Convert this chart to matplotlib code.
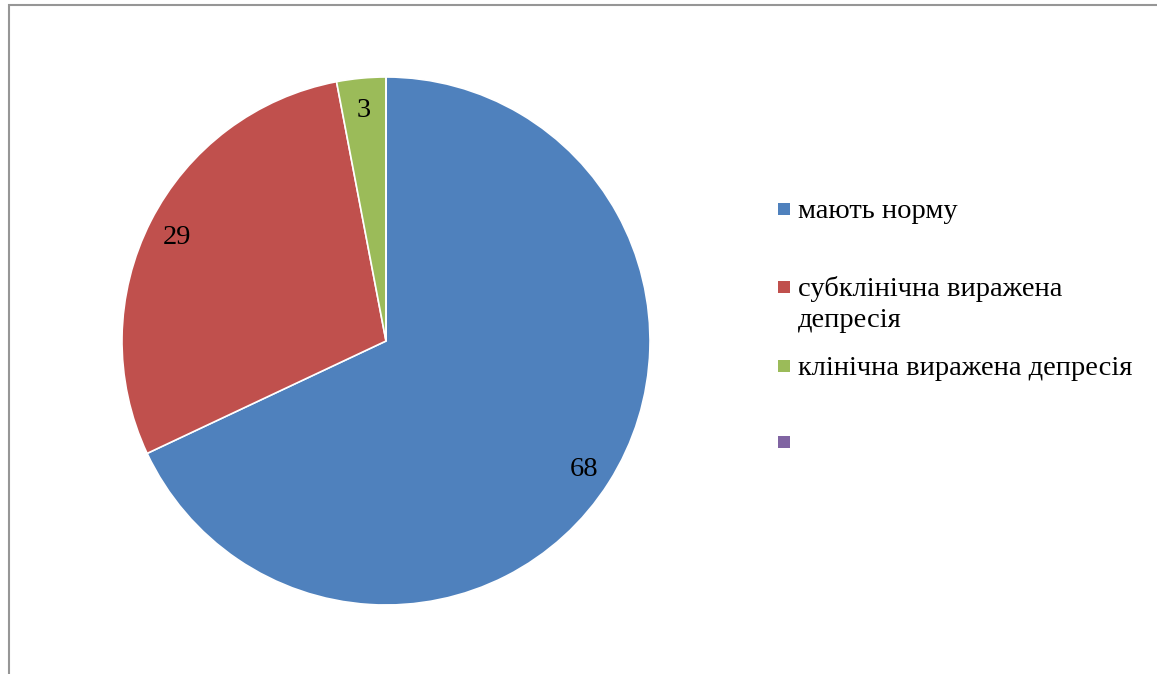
import matplotlib
matplotlib.use("Agg")
import matplotlib.pyplot as plt
from matplotlib.patches import Rectangle

# Data
categories = ["мають норму", "субклінічна виражена\nдепресія",
              "клінічна виражена депресія", ""]
values = [68, 29, 3, 0]
colors = ["#4F81BD", "#C0504D", "#9BBB59", "#8064A2"]

W, H = 1157, 674
DPI = 100
fig = plt.figure(figsize=(W / DPI, H / DPI), dpi=DPI)
fig.patch.set_facecolor("white")

font = "Liberation Serif"
fsize = 20.5

# Chart-area frame
fig.patches.append(Rectangle((9 / W, -0.05), 1.2, (H - 5) / H + 0.05,
                             transform=fig.transFigure, fill=False,
                             edgecolor="#969696", linewidth=1.5))

# Pie
cx, cy, r = 386, 341, 264
ax = fig.add_axes([(cx - r) / W, (H - cy - r) / H, 2 * r / W, 2 * r / H])
total = sum(values)


def fmt(pct):
    v = int(round(pct * total / 100.0))
    return str(v) if v > 0 else ""


wedges, _, autotexts = ax.pie(values, colors=colors, startangle=90,
                              counterclock=False, radius=1.0,
                              autopct=fmt, pctdistance=0.89,
                              wedgeprops=dict(edgecolor="white", linewidth=1.2))
for t in autotexts:
    t.set_fontfamily(font)
    t.set_fontsize(fsize)
    t.set_color("black")
    t.set_verticalalignment("center_baseline")
ax.set_xlim(-1, 1)
ax.set_ylim(-1, 1)
ax.set_aspect("equal")
ax.axis("off")

# Legend
marker_y = [209, 287, 366, 442]
mx, ms = 784, 12
tx = 798
for lab, col, my in zip(categories, colors, marker_y):
    fig.patches.append(Rectangle(((mx - ms / 2) / W, (H - my - ms / 2) / H),
                                 ms / W, ms / H, transform=fig.transFigure,
                                 facecolor=col, edgecolor="none"))
    for i, line in enumerate(lab.split("\n")):
        if line:
            fig.text(tx / W, (H - (my + 9 + 31 * i)) / H, line,
                     fontfamily=font, fontsize=fsize, color="black",
                     va="baseline", ha="left")

fig.savefig("out.png", dpi=DPI, facecolor="white")
